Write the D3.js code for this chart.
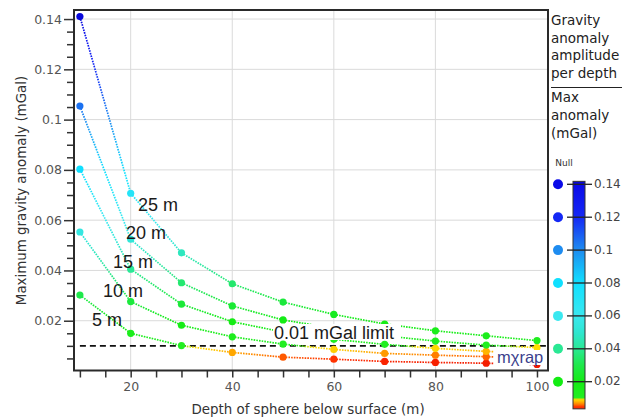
<!DOCTYPE html>
<html><head><meta charset="utf-8">
<script src="https://cdn.jsdelivr.net/npm/d3@7/dist/d3.min.js"></script>
<style>body{margin:0;background:#fff}svg{display:block}</style>
</head><body><svg id="c" width="636" height="419"></svg>
<script>
// ---- data ----
const depths = [10,20,30,40,50,60,70,80,90,100];
const seriesNames = ["5 m","10 m","15 m","20 m","25 m"];
const anom5  = [0.0302,0.0150,0.0101,0.0074,0.0055,0.0047,0.0038,0.0034,0.0031,0.0026];
const anom10 = [0.0553,0.0276,0.0182,0.0136,0.0107,0.0086,0.0070,0.0063,0.0057,0.0050];
const anom15 = [0.0803,0.0405,0.0266,0.0196,0.0155,0.0126,0.0106,0.0090,0.0078,0.0072];
const anom20 = [0.1054,0.0524,0.0351,0.0259,0.0203,0.0170,0.0140,0.0119,0.0103,0.0093];
const anom25 = [0.1410,0.0707,0.0470,0.0347,0.0274,0.0225,0.0187,0.0160,0.0140,0.0121];
const xTickLabels = [20,40,60,80,100];
const yTickLabels = [0.02,0.04,0.06,0.08,0.1,0.12,0.14];
const legendTicks = [0.02,0.04,0.06,0.08,0.1,0.12,0.14];
const limitValue = 0.01;
const legendTitle = ["Gravity","anomaly","amplitude","per depth"];
const legendSub = ["Max","anomaly","(mGal)"];

const allSeries = [anom5, anom10, anom15, anom20, anom25];

// ---- colour scale ----
const cStops = [0,0.0045,0.0065,0.0085,0.0096,0.0100,0.02,0.03,0.04,0.05,0.06,0.08,0.10,0.12,0.14,0.1436];
const cCols  = ["#dd0000","#ff2a00","#ff8800","#ffcc00","#ffe400","#22ee22","#14ec14","#1ee84a","#2ae894","#2ee6d0","#3ae8f0","#10e0ff","#1e8cf0","#1428f5","#0a0ae8","#0000b8"];
const color = d3.scaleLinear().domain(cStops).range(cCols).interpolate(d3.interpolateRgb).clamp(true);

const svg = d3.select("#c");
const defs = svg.append("defs");

const x = d3.scaleLinear().domain([8.84,102.17]).range([74,548]);
const y = d3.scaleLinear().domain([0,0.1436]).range([371,10]);

const fontT = "DejaVu Sans, Verdana, sans-serif";
const fontA = "Liberation Sans, Arial, sans-serif";

// grid
const g = svg.append("g");
g.selectAll(".vg").data([20,40,60,80]).join("line")
  .attr("x1",d=>x(d)).attr("x2",d=>x(d)).attr("y1",y.range()[1]).attr("y2",y.range()[0])
  .attr("stroke","#dadada").attr("stroke-width",1);
g.selectAll(".hg").data(yTickLabels).join("line")
  .attr("x1",x.range()[0]).attr("x2",x.range()[1]).attr("y1",d=>y(d)).attr("y2",d=>y(d))
  .attr("stroke","#dadada").attr("stroke-width",1);

// axes
const yMinor = d3.range(1,29).map(i=>+(i*0.005).toFixed(3));
const yAxis = d3.axisLeft(y).tickValues(yMinor)
  .tickSize(7).tickFormat(d=> yTickLabels.some(t=>Math.abs(t-d)<1e-9) ? d3.format("~g")(d) : "");
const ya = svg.append("g").attr("transform",`translate(${x.range()[0]},0)`).call(yAxis);
ya.select(".domain").remove();
ya.selectAll(".tick line").attr("stroke","#333").attr("stroke-width",1.5)
  .attr("x2",d=> yTickLabels.some(t=>Math.abs(t-d)<1e-9) ? -10 : -7);
ya.selectAll(".tick text").attr("x",-12).attr("fill","#555").style("font-family",fontT).style("font-size","12.5px");

const xMinor = d3.range(10,101,5);
const xAxis = d3.axisBottom(x).tickValues(xMinor).tickSize(7)
  .tickFormat(d=> xTickLabels.includes(d) ? String(d) : "");
const xa = svg.append("g").attr("transform",`translate(0,${y.range()[0]-0.5})`).call(xAxis);
xa.select(".domain").remove();
xa.selectAll(".tick line").attr("stroke","#333").attr("stroke-width",1.5);
xa.selectAll(".tick text").attr("y",12).attr("fill","#555").style("font-family",fontT).style("font-size","12.5px");

// frame
svg.append("rect").attr("x",x.range()[0]).attr("y",y.range()[1])
  .attr("width",x.range()[1]-x.range()[0]).attr("height",y.range()[0]-0.5-y.range()[1])
  .attr("fill","none").attr("stroke","#2a2a2a").attr("stroke-width",2);

// axis titles
svg.append("text").attr("transform",`translate(22,${(y.range()[0]+y.range()[1])/2}) rotate(-90)`)
  .attr("text-anchor","middle").attr("dominant-baseline","middle")
  .style("font-family",fontT).style("font-size","13.4px").attr("fill","#333")
  .text("Maximum gravity anomaly (mGal)");
svg.append("text").attr("x",(x.range()[0]+x.range()[1])/2-3).attr("y",414)
  .attr("text-anchor","middle").style("font-family",fontT).style("font-size","13.4px").attr("fill","#333")
  .text("Depth of sphere below surface (m)");

// limit line
svg.append("line").attr("x1",x(10)).attr("x2",x.range()[1]-2).attr("y1",y(limitValue)).attr("y2",y(limitValue))
  .attr("stroke","#111").attr("stroke-width",1.8).attr("stroke-dasharray","6,4");

// series lines with gradients
let gid = 0;
allSeries.forEach((vals,si)=>{
  const gs = svg.append("g");
  for(let i=0;i<vals.length-1;i++){
    const x1=x(depths[i]), y1=y(vals[i]), x2=x(depths[i+1]), y2=y(vals[i+1]);
    const id = "gr"+(gid++);
    const lg = defs.append("linearGradient").attr("id",id).attr("gradientUnits","userSpaceOnUse")
      .attr("x1",x1).attr("y1",y1).attr("x2",x2).attr("y2",y2);
    d3.range(0,1.0001,0.125).forEach(t=>{
      lg.append("stop").attr("offset",t).attr("stop-color",color(vals[i]+(vals[i+1]-vals[i])*t));
    });
    gs.append("line").attr("x1",x1).attr("y1",y1).attr("x2",x2).attr("y2",y2)
      .attr("stroke",`url(#${id})`).attr("stroke-width",1.7).attr("stroke-dasharray","1.6,1.1");
  }
});
allSeries.forEach(vals=>{
  svg.append("g").selectAll("circle").data(depths.map((d,i)=>[d,vals[i]])).join("circle")
    .attr("cx",d=>x(d[0])).attr("cy",d=>y(d[1])).attr("r",3.6).attr("fill",d=>color(d[1]));
});

// series labels
const labelPos = [[92,325.5],[103,297],[113,268],[126,239],[138,210.5]];
seriesNames.forEach((n,i)=>{
  svg.append("text").attr("x",labelPos[i][0]).attr("y",labelPos[i][1])
    .style("font-family",fontA).style("font-size","18px").attr("fill","#1a1a1a").text(n);
});

// limit label with white background
const lim = svg.append("g");
lim.append("rect").attr("x",273).attr("y",324).attr("width",128).attr("height",16).attr("fill","#fff");
lim.append("text").attr("x",274).attr("y",338.5).style("font-family",fontA).style("font-size","18px")
  .attr("fill","#1a1a1a").text("0.01 mGal limit");

// watermark
const wm = svg.append("g");
wm.append("rect").attr("x",494).attr("y",350).attr("width",52).attr("height",15).attr("fill","#fff");
wm.append("text").attr("x",497).attr("y",362.5).style("font-family",fontA).style("font-size","16.5px")
  .attr("fill","#3b3f8c").text("mχrap");

// legend
const lx = 551;
legendTitle.forEach((t,i)=>{
  svg.append("text").attr("x",lx).attr("y",25+i*17.6).style("font-family",fontT).style("font-size","13.5px")
    .attr("fill","#222").text(t);
});
svg.append("line").attr("x1",lx).attr("x2",622).attr("y1",87.5).attr("y2",87.5).attr("stroke","#222").attr("stroke-width",1);
legendSub.forEach((t,i)=>{
  svg.append("text").attr("x",lx).attr("y",101.5+i*18).style("font-family",fontT).style("font-size","13.5px")
    .attr("fill","#222").text(t);
});
svg.append("text").attr("x",564).attr("y",166).attr("text-anchor","middle")
  .style("font-family",fontT).style("font-size","9px").attr("fill","#333").text("Null");

const cb = d3.scaleLinear().domain([0.02,0.14]).range([381.7,184.3]);
const cbTop = 0.1418, cbBot = 0.0035;
const bg = defs.append("linearGradient").attr("id","cbg").attr("x1",0).attr("y1",1).attr("x2",0).attr("y2",0);
d3.range(0,1.0001,0.01).forEach(t=>{
  bg.append("stop").attr("offset",t).attr("stop-color",color(cbBot+(cbTop-cbBot)*t));
});
svg.append("rect").attr("x",573).attr("y",cb(cbTop)).attr("width",12).attr("height",cb(cbBot)-cb(cbTop))
  .attr("fill","url(#cbg)").attr("stroke","#333").attr("stroke-width",1);
svg.append("g").selectAll("line").data(legendTicks).join("line")
  .attr("x1",567).attr("x2",592).attr("y1",d=>cb(d)).attr("y2",d=>cb(d)).attr("stroke","#222").attr("stroke-width",1.3);
svg.append("g").selectAll("text").data(legendTicks).join("text")
  .attr("x",594).attr("y",d=>cb(d)).attr("dominant-baseline","middle")
  .style("font-family",fontT).style("font-size","12px").attr("fill","#444").text(d=>d3.format("~g")(d));
svg.append("g").selectAll("circle").data(legendTicks).join("circle")
  .attr("cx",558).attr("cy",d=>cb(d)).attr("r",5).attr("fill",d=>color(d));
</script></body></html>
